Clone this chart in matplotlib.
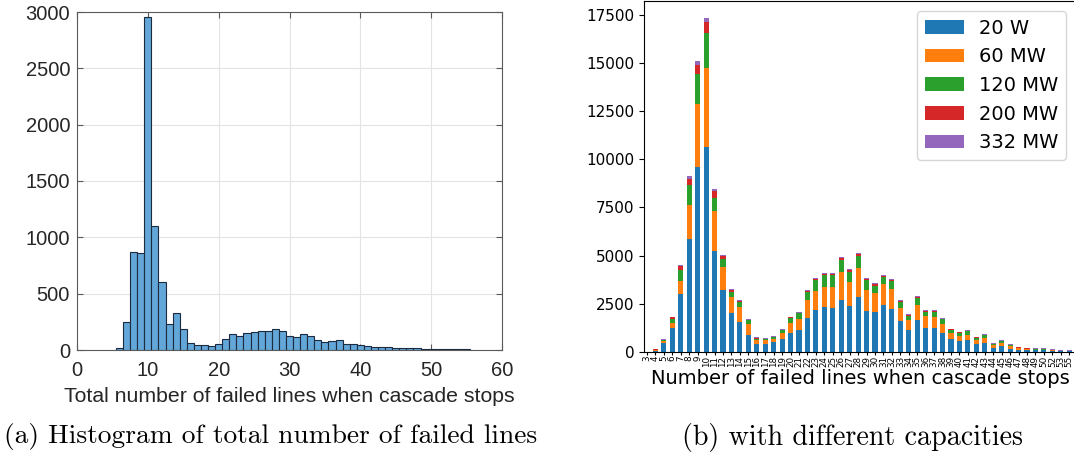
import numpy as np
import matplotlib
matplotlib.use('Agg')
import matplotlib.pyplot as plt

# --- (a) histogram: total number of failed lines (bin centres and counts)
hist_lines = list(range(6, 56))
hist_counts = [18, 248, 868, 857, 2958, 1100, 600, 233, 330, 185,
               62, 47, 45, 34, 55, 98, 142, 128, 155, 161,
               170, 167, 183, 169, 127, 116, 143, 124, 90, 71,
               83, 92, 56, 56, 41, 33, 30, 27, 24, 21,
               18, 18, 15, 12, 12, 9, 9, 6, 6, 6]

# --- (b) stacked bars per capacity
cats = [str(v) for v in list(range(3, 51)) + [52, 53, 55]]
cap_labels = ['20 W', '60 MW', '120 MW', '200 MW', '332 MW']
s20 = [10, 60, 460, 1240, 3000, 5850, 9630, 10670, 5240, 3200,
       2000, 1550, 865, 400, 410, 510, 655, 975, 1125, 1748,
       2175, 2320, 2268, 2685, 2375, 2830, 2120, 2065, 2425, 2215,
       1595, 1128, 1645, 1238, 1238, 968, 658, 555, 615, 400,
       460, 200, 302, 140, 88, 70, 70, 70, 35, 15, 15]
s60 = [0, 10, 80, 250, 670, 1770, 3270, 4110, 2070, 1210,
       840, 780, 585, 220, 195, 160, 320, 520, 570, 937,
       975, 1050, 1102, 1465, 1250, 1535, 1080, 990, 1085, 1040,
       675, 517, 780, 617, 562, 470, 320, 283, 253, 208,
       250, 148, 138, 162, 112, 50, 40, 40, 65, 15, 15]
s120 = [0, 10, 75, 200, 580, 1040, 1560, 1810, 680, 400,
        260, 260, 195, 50, 35, 80, 150, 270, 295, 420,
        590, 600, 600, 605, 525, 605, 520, 355, 365, 415,
        320, 225, 380, 233, 288, 252, 150, 140, 197, 122,
        148, 67, 98, 38, 10, 20, 30, 30, 5, 10, 10]
s200 = [0, 40, 15, 90, 220, 310, 470, 570, 350, 150,
        100, 40, 15, 60, 35, 30, 15, 15, 30, 70,
        60, 70, 55, 105, 100, 105, 60, 120, 80, 70,
        40, 35, 60, 32, 32, 15, 32, 22, 25, 15,
        22, 10, 22, 10, 10, 35, 10, 10, 5, 10, 10]
s332 = [0, 5, 30, 30, 30, 150, 170, 210, 120, 60,
        40, 50, 35, 30, 40, 32, 38, 28, 40, 40,
        35, 50, 45, 55, 60, 50, 50, 45, 45, 45,
        55, 50, 45, 45, 35, 35, 45, 30, 45, 25,
        38, 35, 48, 40, 30, 15, 22, 22, 10, 20, 35]
series = [s20, s60, s120, s200, s332]
colors = ['#1f77b4', '#ff7f0e', '#2ca02c', '#d62728', '#9467bd']

W, H = 1074, 454
fig = plt.figure(figsize=(W / 100, H / 100), dpi=100)

# ---------------- left panel (MATLAB-like look)
axl = fig.add_axes([77 / W, 1 - 350 / H, 425 / W, 338 / H])
axl.bar(hist_lines, hist_counts, width=1.0, color='#63a6d8',
        edgecolor='#1c2b40', linewidth=0.8, zorder=3)
axl.set_xlim(0, 60)
axl.set_ylim(0, 3000)
axl.set_xticks(range(0, 61, 10), [str(v) for v in range(0, 61, 10)],
               family='Liberation Sans', fontsize=14.5)
axl.set_yticks(range(0, 3001, 500), [str(v) for v in range(0, 3001, 500)],
               family='Liberation Sans', fontsize=14.5)
axl.grid(True, color='#e3e3e3', linewidth=0.8, zorder=0)
axl.tick_params(direction='in', length=4, top=True, right=True,
                color='#5a5a5a', labelcolor='#262626')
axl.tick_params(axis='x', pad=8)
axl.tick_params(axis='y', pad=5)
for sp in axl.spines.values():
    sp.set_color('#5a5a5a')
    sp.set_linewidth(0.8)
axl.set_xlabel('Total number of failed lines when cascade stops',
               fontsize=15.3, family='Liberation Sans', color='#262626',
               labelpad=5)

# ---------------- right panel (stacked bars)
axr = fig.add_axes([644 / W, 1 - 351.7 / H, 432 / W, 350.7 / H])
x = np.arange(len(cats))
bottom = np.zeros(len(cats))
for vals, lab, col in zip(series, cap_labels, colors):
    axr.bar(x, vals, width=0.6, bottom=bottom, color=col, label=lab)
    bottom += np.array(vals)
axr.set_xlim(-0.35, 50.8)
axr.set_xticks(x)
axr.set_xticklabels(cats, rotation=90, fontsize=6.3)
axr.tick_params(axis='x', length=2, pad=1)
axr.set_yticks(range(0, 17501, 2500))
axr.tick_params(axis='y', labelsize=11)
axr.set_xlabel('Number of failed lines when cascade stops', fontsize=14,
               labelpad=1)
axr.legend(loc='upper right', fontsize=14)

# ---------------- sub-captions
fig.text(271 / W, 1 - 437 / H, '(a) Histogram of total number of failed lines',
         family='cmr10', fontsize=19.8, ha='center', va='center')
fig.text(852 / W, 1 - 437 / H, '(b) with different capacities',
         family='cmr10', fontsize=20.2, ha='center', va='center')

fig.savefig('out.png', dpi=100)
